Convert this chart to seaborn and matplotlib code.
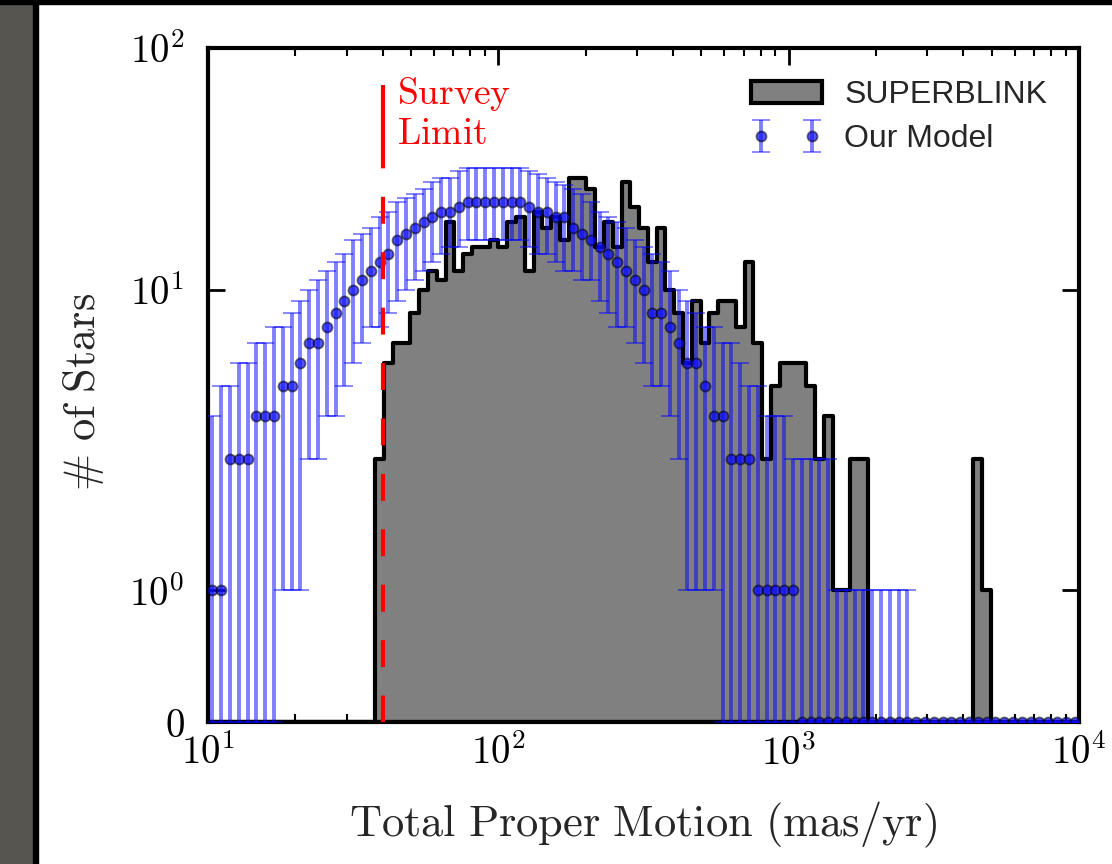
import numpy as np
import matplotlib
matplotlib.use("Agg")
import matplotlib.pyplot as plt
import matplotlib.transforms as mtransforms
from matplotlib.patches import Rectangle
from matplotlib.ticker import NullLocator, NullFormatter
import seaborn as sns

# 99 logarithmic bins from 10 to 10^4 mas/yr, shared by both histograms
edges = np.logspace(1, 4, 100)

# SUPERBLINK counts per bin
superblink = [0, 0, 0, 0, 0, 0, 0, 0, 0, 0,
              0, 0, 0, 0, 0, 0, 0, 0, 0, 2,
              5, 6, 6, 8, 10, 12, 11, 19, 12, 14,
              15, 15, 16, 15, 19, 20, 12, 21, 18, 20,
              16, 29, 29, 26, 15, 19, 15, 28, 22, 18,
              13, 18, 10, 8, 5, 9, 6, 8, 9, 9,
              7, 13, 6, 2, 4, 5, 5, 5, 4, 2,
              3, 1, 1, 2, 2, 0, 0, 0, 0, 0,
              0, 0, 0, 0, 0, 0, 0, 2, 1, 0,
              0, 0, 0, 0, 0, 0, 0, 0, 0]

# model median and the lower / upper ends of its error bars
model = [1, 1, 2, 2, 2, 3, 3, 3, 4, 4,
         5, 6, 6, 7, 8, 9, 10, 11, 12, 13,
         14, 16, 17, 18, 19, 20, 21, 21, 22, 23,
         23, 23, 23, 23, 23, 23, 22, 21, 21, 20,
         20, 18, 17, 16, 15, 14, 13, 12, 11, 10,
         8, 8, 7, 6, 5, 5, 4, 3, 3, 2,
         2, 2, 1, 1, 1, 1, 1, 0, 0, 0,
         0, 0, 0, 0, 0, 0, 0, 0, 0, 0,
         0, 0, 0, 0, 0, 0, 0, 0, 0, 0,
         0, 0, 0, 0, 0, 0, 0, 0, 0]
model_hi = [3, 4, 4, 5, 5, 6, 6, 7, 7, 8,
            9, 10, 11, 12, 13, 14, 16, 17, 18, 20,
            21, 23, 24, 25, 26, 28, 29, 29, 31, 32,
            32, 32, 32, 32, 32, 32, 31, 30, 29, 28,
            27, 26, 25, 23, 21, 20, 19, 18, 16, 15,
            14, 13, 12, 10, 9, 8, 7, 7, 6, 6,
            5, 4, 4, 3, 3, 3, 2, 2, 2, 2,
            2, 1, 1, 1, 1, 1, 1, 1, 1, 1,
            0, 0, 0, 0, 0, 0, 0, 0, 0, 0,
            0, 0, 0, 0, 0, 0, 0, 0, 0]
model_lo = [0, 0, 0, 0, 0, 0, 0, 0, 1, 1,
            1, 2, 2, 3, 3, 4, 5, 6, 7, 7,
            8, 9, 10, 11, 12, 13, 14, 15, 15, 16,
            16, 16, 16, 16, 16, 16, 15, 14, 14, 13,
            12, 12, 11, 11, 9, 8, 7, 7, 6, 5,
            4, 4, 3, 2, 1, 1, 1, 1, 0, 0,
            0, 0, 0, 0, 0, 0, 0, 0, 0, 0,
            0, 0, 0, 0, 0, 0, 0, 0, 0, 0,
            0, 0, 0, 0, 0, 0, 0, 0, 0, 0,
            0, 0, 0, 0, 0, 0, 0, 0, 0]

survey_limit = 40
xticks = [10, 100, 1000, 10000]
xticklabels = [r'$10^{1}$', r'$10^{2}$', r'$10^{3}$', r'$10^{4}$']
yticks = [0, 1, 10, 100]
yticklabels = [r'$0$', r'$10^{0}$', r'$10^{1}$', r'$10^{2}$']

sns.set_style("ticks")
plt.rcParams['mathtext.fontset'] = 'cm'
plt.rcParams['font.family'] = ['DejaVu Sans']
plt.rcParams['lines.scale_dashes'] = False

centers = np.sqrt(edges[:-1] * edges[1:])
model = np.array(model)
lo = model - np.array(model_lo)
hi = np.array(model_hi) - model

fig = plt.figure(figsize=(11.12, 8.64), dpi=100)
# screenshot frame: dark strip on the left, black border
fig.add_artist(Rectangle((0, 0), 33/1112, 1, transform=fig.transFigure, color='#57554f', zorder=-5))
fig.add_artist(Rectangle((33/1112, 0), 5/1112, 1, transform=fig.transFigure, color='k', zorder=-5))
fig.add_artist(Rectangle((0, 1-4/864), 1, 4/864, transform=fig.transFigure, color='k', zorder=-5))

ax = fig.add_axes([208/1112, 1-722/864, 871/1112, 674/864])

sns.histplot(x=centers, weights=superblink, bins=list(edges), element='step', fill=True,
             color='gray', alpha=1, edgecolor='k', linewidth=3, ax=ax, label='SUPERBLINK')

ax.errorbar(centers, model, yerr=[lo, hi], fmt='o', ms=7.2,
            mfc=(0.05, 0.05, 1, 0.7), mec=(0, 0, 0, 0.55), mew=1.3,
            ecolor=(0, 0, 1, 0.5), elinewidth=2.8, capsize=6.5, capthick=1.6,
            label='Our Model', zorder=3)

ax.plot([survey_limit, survey_limit], [70, 0], color='red', lw=3,
        dashes=[60, 20.5] + [19.4, 20.5] * 12, zorder=4)
trans = mtransforms.blended_transform_factory(ax.transData, ax.transAxes)
ax.text(44.8, 0.96, r'$\mathrm{Survey}$' + '\n' + r'$\mathrm{Limit}$', color='red',
        fontsize=27, ha='left', va='top', transform=trans, linespacing=1.1)

ax.set_xscale('log')
ax.set_yscale('symlog', linthresh=2, linscale=0.98)
ax.set_xlim(10, 10000)
ax.set_ylim(0, 100)

ax.set_xticks(xticks)
ax.set_xticklabels(xticklabels)
ax.xaxis.set_minor_formatter(NullFormatter())
ax.set_yticks(yticks)
ax.set_yticklabels(yticklabels)
ax.yaxis.set_minor_locator(NullLocator())

ax.tick_params(which='both', direction='in', top=True, right=True, colors='k')
ax.tick_params(which='major', length=12, width=2, labelsize=28)
ax.tick_params(which='minor', length=6, width=1.5)
ax.tick_params(axis='x', pad=9)
ax.tick_params(axis='y', pad=17)
for s in ax.spines.values():
    s.set_linewidth(3)
    s.set_color('k')

ax.set_xlabel(r'$\mathrm{Total\ Proper\ Motion\ (mas/yr)}$', fontsize=32)
ax.set_ylabel(r'$\#\ \mathrm{of\ Stars}$', fontsize=32)
ax.xaxis.set_label_coords(0.5, -0.115)
ax.yaxis.set_label_coords(-0.117, 0.49)

ax.legend(loc='upper right', frameon=False, numpoints=2,
          prop={'family': 'Liberation Sans', 'size': 23},
          handlelength=2.2, handletextpad=0.7, labelspacing=0.45,
          borderaxespad=0.6)

fig.savefig('out.png', dpi=100)
